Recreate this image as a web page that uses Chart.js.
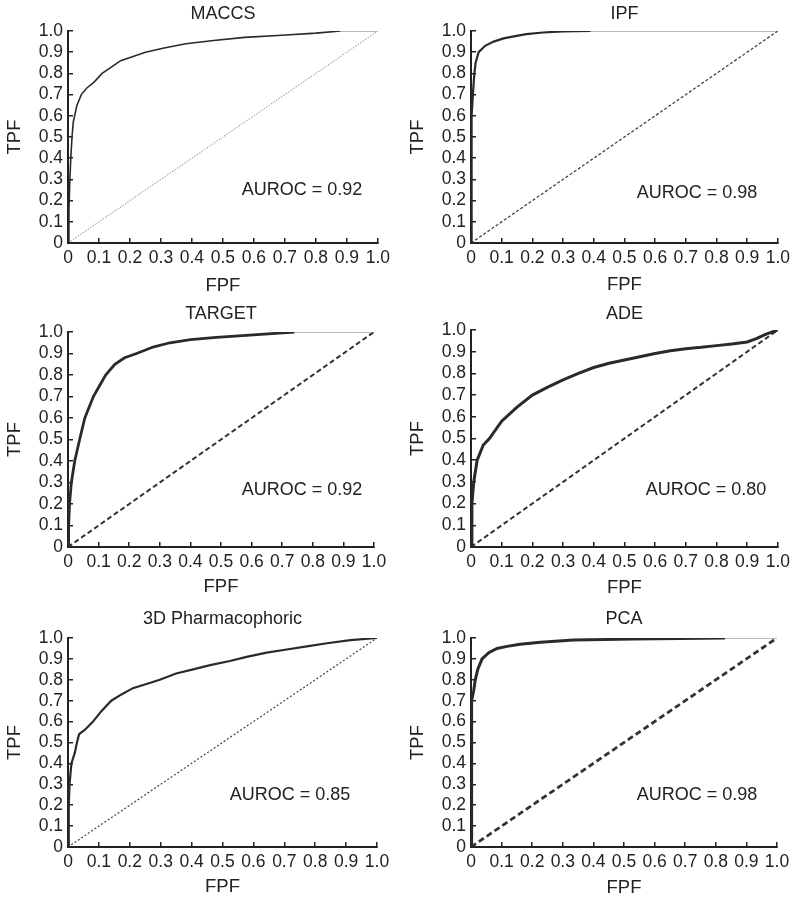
<!DOCTYPE html>
<html>
<head>
<meta charset="utf-8">
<script src="https://cdn.jsdelivr.net/npm/chart.js@4/dist/chart.umd.min.js"></script>
<style>
  body { margin: 0; background: #fff; }
  #wrap { position: relative; width: 800px; height: 903px; }
  canvas { position: absolute; }
</style>
</head>
<body>
<div id="wrap"></div>
<script>
// ---- data ----
const modelNames = ["MACCS", "IPF", "TARGET", "ADE", "3D Pharmacophoric", "PCA"];
const aurocValues = ["0.92", "0.98", "0.92", "0.80", "0.85", "0.98"];

const tickValues = [0, 0.1, 0.2, 0.3, 0.4, 0.5, 0.6, 0.7, 0.8, 0.9, 1.0];
const tickLabels = ["0", "0.1", "0.2", "0.3", "0.4", "0.5", "0.6", "0.7", "0.8", "0.9", "1.0"];

const maccsFpf = [0, 0.003, 0.006, 0.009, 0.013, 0.017, 0.029, 0.043, 0.06, 0.085, 0.11, 0.14, 0.17, 0.21, 0.25, 0.31, 0.38, 0.47, 0.57, 0.69, 0.80, 0.88, 1];
const maccsTpf = [0, 0.15, 0.3, 0.4, 0.5, 0.57, 0.65, 0.70, 0.73, 0.76, 0.80, 0.83, 0.86, 0.88, 0.90, 0.92, 0.94, 0.955, 0.97, 0.98, 0.99, 1, 1];

const ipfFpf = [0, 0.001, 0.003, 0.007, 0.011, 0.015, 0.025, 0.046, 0.074, 0.106, 0.14, 0.18, 0.235, 0.30, 0.39, 1];
const ipfTpf = [0, 0.3, 0.6, 0.72, 0.8, 0.85, 0.9, 0.93, 0.95, 0.965, 0.975, 0.985, 0.993, 0.998, 1, 1];

const targetFpf = [0, 0.002, 0.005, 0.011, 0.022, 0.038, 0.055, 0.083, 0.103, 0.123, 0.153, 0.185, 0.224, 0.278, 0.333, 0.40, 0.485, 0.594, 0.74, 1];
const targetTpf = [0, 0.1, 0.2, 0.3, 0.4, 0.5, 0.6, 0.7, 0.75, 0.8, 0.85, 0.88, 0.9, 0.93, 0.95, 0.965, 0.975, 0.985, 1, 1];

const adeFpf = [0, 0.003, 0.009, 0.02, 0.04, 0.06, 0.1, 0.15, 0.2, 0.25, 0.3, 0.35, 0.4, 0.45, 0.5, 0.55, 0.6, 0.65, 0.7, 0.75, 0.8, 0.85, 0.9, 0.93, 0.96, 1];
const adeTpf = [0, 0.2, 0.3, 0.4, 0.47, 0.5, 0.58, 0.645, 0.70, 0.737, 0.77, 0.80, 0.827, 0.847, 0.862, 0.877, 0.892, 0.904, 0.914, 0.92, 0.928, 0.935, 0.945, 0.96, 0.98, 1];

const pharmFpf = [0, 0.002, 0.003, 0.005, 0.011, 0.022, 0.029, 0.036, 0.054, 0.081, 0.108, 0.14, 0.173, 0.21, 0.254, 0.297, 0.35, 0.405, 0.46, 0.524, 0.578, 0.643, 0.708, 0.773, 0.838, 0.914, 1];
const pharmTpf = [0, 0.15, 0.2, 0.3, 0.4, 0.45, 0.5, 0.54, 0.56, 0.6, 0.65, 0.7, 0.73, 0.76, 0.78, 0.8, 0.83, 0.85, 0.87, 0.89, 0.91, 0.93, 0.945, 0.96, 0.975, 0.99, 1];

const pcaFpf = [0, 0.001, 0.003, 0.009, 0.014, 0.022, 0.036, 0.058, 0.085, 0.118, 0.16, 0.227, 0.335, 0.53, 0.83, 1];
const pcaTpf = [0, 0.35, 0.7, 0.75, 0.8, 0.85, 0.9, 0.93, 0.95, 0.96, 0.97, 0.98, 0.99, 0.995, 1, 1];

const chanceFpf = [0, 1];
const chanceTpf = [0, 1];

const curves = [
  [maccsFpf, maccsTpf],
  [ipfFpf, ipfTpf],
  [targetFpf, targetTpf],
  [adeFpf, adeTpf],
  [pharmFpf, pharmTpf],
  [pcaFpf, pcaTpf]
];

// ---- layout / styling per panel ----
const panels = [
  { x: 0,   y: 0,   w: 400, h: 300, l: 68, r: 379, t: 31, b: 243, titleY: 14.5, ax: 302, ay: 190, yPad: 4, xPad: 3, line: 1.6, diag: 1,   dash: [1.5, 1.5], diagColor: "#888" },
  { x: 400, y: 0,   w: 400, h: 300, l: 71, r: 379, t: 31, b: 243, titleY: 14.5, ax: 297, ay: 193, yPad: 7, xPad: 4, line: 2.2, diag: 1.3, dash: [3, 2],     diagColor: "#444" },
  { x: 0,   y: 300, w: 400, h: 300, l: 68, r: 374, t: 32, b: 247, titleY: 14,   ax: 302, ay: 190, yPad: 4, xPad: 2, line: 2.8, diag: 2,   dash: [5, 3],     diagColor: "#333" },
  { x: 400, y: 300, w: 400, h: 300, l: 71, r: 379, t: 30, b: 247, titleY: 14,   ax: 306, ay: 190, yPad: 7, xPad: 1, line: 3,   diag: 2,   dash: [5, 3],     diagColor: "#333" },
  { x: 0,   y: 600, w: 400, h: 303, l: 68, r: 377, t: 38, b: 247, titleY: 19,   ax: 290, ay: 195, yPad: 4, xPad: 5, line: 2.2, diag: 1.2, dash: [2, 2],     diagColor: "#444" },
  { x: 400, y: 600, w: 400, h: 303, l: 71, r: 377, t: 38, b: 247, titleY: 19,   ax: 297, ay: 195, yPad: 7, xPad: 4, line: 3,   diag: 2.8, dash: [6, 3.5],   diagColor: "#333" }
];

const FONT = '"Liberation Sans", Arial, Helvetica, sans-serif';
Chart.defaults.font.family = FONT;
Chart.defaults.color = "#222";

const panelText = {
  id: "panelText",
  afterDraw(chart, args, opts) {
    const { ctx, chartArea } = chart;
    ctx.save();
    ctx.fillStyle = "#222";
    ctx.textAlign = "center";
    ctx.textBaseline = "middle";
    ctx.font = "18px " + FONT;
    ctx.fillText(opts.title, (chartArea.left + chartArea.right) / 2, opts.titleY);
    ctx.fillText("AUROC = " + opts.auroc, opts.ax, opts.ay);
    ctx.restore();
  }
};

function toPoints(xs, ys) {
  return xs.map((x, i) => ({ x: x, y: ys[i] }));
}

function axis(p, horizontal) {
  return {
    type: "linear",
    min: 0,
    max: 1,
    afterBuildTicks: scale => {
      scale.ticks = tickValues.map(v => ({ value: v }));
    },
    afterFit: scale => {
      if (horizontal) scale.height = p.h - p.b;
      else scale.width = p.l;
    },
    ticks: {
      callback: (v, i) => tickLabels[i],
      font: { size: 17.5 },
      color: "#222",
      padding: 10,
      maxRotation: 0,
      autoSkip: false
    },
    grid: {
      drawOnChartArea: false,
      drawTicks: true,
      tickLength: -5,
      color: "#222",
      lineWidth: 1.5
    },
    border: { display: true, color: "#222", width: 2 },
    title: {
      display: true,
      text: horizontal ? "FPF" : "TPF",
      font: { size: 18.5 },
      color: "#222",
      padding: horizontal ? { top: 0, bottom: p.xPad } : { top: p.yPad, bottom: 0 }
    }
  };
}

const wrap = document.getElementById("wrap");

panels.forEach((p, k) => {
  const canvas = document.createElement("canvas");
  canvas.width = p.w;
  canvas.height = p.h;
  canvas.style.left = p.x + "px";
  canvas.style.top = p.y + "px";
  canvas.style.width = p.w + "px";
  canvas.style.height = p.h + "px";
  wrap.appendChild(canvas);

  const flatTail = c => c.p0.parsed.y === 1 && c.p1.parsed.y === 1;

  new Chart(canvas, {
    type: "scatter",
    data: {
      datasets: [
        {
          label: modelNames[k],
          data: toPoints(curves[k][0], curves[k][1]),
          showLine: true,
          borderColor: "#2a2a2a",
          borderWidth: p.line,
          pointRadius: 0,
          tension: 0,
          segment: {
            borderWidth: c => flatTail(c) ? 1.2 : undefined,
            borderColor: c => flatTail(c) ? "#777" : undefined
          }
        },
        {
          label: "chance",
          data: toPoints(chanceFpf, chanceTpf),
          showLine: true,
          borderColor: p.diagColor,
          borderWidth: p.diag,
          borderDash: p.dash,
          pointRadius: 0
        }
      ]
    },
    options: {
      responsive: false,
      animation: false,
      layout: { padding: { left: 0, top: p.t, right: p.w - p.r, bottom: 0 } },
      plugins: {
        legend: { display: false },
        tooltip: { enabled: false },
        title: { display: false },
        panelText: { title: modelNames[k], auroc: aurocValues[k], titleY: p.titleY, ax: p.ax, ay: p.ay }
      },
      scales: {
        x: axis(p, true),
        y: axis(p, false)
      }
    },
    plugins: [panelText]
  });
});
</script>
</body>
</html>
